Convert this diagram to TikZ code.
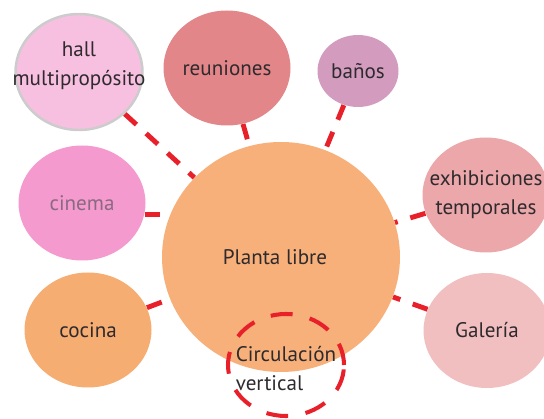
\documentclass[tikz,border=0pt]{standalone}
\usepackage{fontspec}
\setmainfont{PT Sans}
\usetikzlibrary{shapes.geometric,backgrounds}
\definecolor{libre}{HTML}{F7B079}
\definecolor{hallc}{HTML}{F8C0E0}
\definecolor{reunc}{HTML}{E3868A}
\definecolor{banoc}{HTML}{D39CBF}
\definecolor{cinec}{HTML}{F59ACF}
\definecolor{cocic}{HTML}{F6AD72}
\definecolor{exhic}{HTML}{EBA7AA}
\definecolor{galec}{HTML}{F2BFC1}
\definecolor{linkred}{HTML}{E8202A}
\definecolor{txt}{HTML}{2E2A2D}
\definecolor{cinetxt}{HTML}{8A6A80}

\begin{document}
\begin{tikzpicture}[font=\fontsize{12}{16.5}\selectfont,
  bubble/.style={ellipse, fill=#1, inner sep=0pt, minimum width=2.54cm, minimum height=2.3cm},
  txt/.style={label={[text=txt, align=center]center:#1}},
  link/.style={linkred, line width=2.8pt, dash pattern=on 9pt off 7.5pt}]
  \useasboundingbox (0,0) rectangle (10.88,-8.38);
  % centre
  \node[bubble=libre, minimum width=4.76cm, minimum height=4.6cm,
    label={[text=txt, xshift=-0.12cm]center:Planta libre}] (plan) at (5.62,-5.14) {};
  % satellites
  \node[bubble=hallc, draw=gray!40, line width=1.4pt, minimum height=2.32cm,
    label={[text=txt, align=center, yshift=0.12cm]center:hall\\multipropósito}] (hall) at (1.58,-1.44) {};
  \node[bubble=reunc, txt=reuniones] (reun) at (4.54,-1.36) {};
  \node[bubble=banoc, minimum width=1.62cm, minimum height=1.44cm, txt=baños] (banos) at (7.16,-1.42) {};
  \node[bubble=cinec, label={[text=cinetxt]center:cinema}] (cine) at (1.64,-4.06) {};
  \node[bubble=cocic, txt=cocina] (cocina) at (1.76,-6.6) {};
  \node[bubble=exhic, txt={exhibiciones\\temporales}] (exhib) at (9.72,-3.9) {};
  \node[bubble=galec, txt=Galería] (gale) at (9.74,-6.61) {};
  \node[ellipse, draw=linkred, line width=2.3pt, dash pattern=on 12.5pt off 10pt,
    inner sep=0pt, minimum width=2.32cm, minimum height=2.04cm,
    label={[text=txt, align=left, yshift=-0.08cm]center:Circulación\\vertical}] (circ) at (5.72,-7.3) {};
  % connectors
  \begin{scope}[on background layer]
    \foreach \s in {hall,reun,banos,cocina,exhib,gale} { \draw[link] (\s) -- (plan); }
    \draw[link] (cine.-10) -- (cine.-10 -| plan.center);
  \end{scope}
\end{tikzpicture}
\end{document}
